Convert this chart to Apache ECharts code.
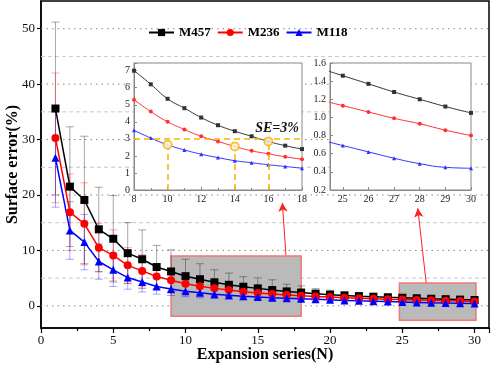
<!DOCTYPE html>
<html>
<head>
<meta charset="utf-8">
<script src="https://cdn.jsdelivr.net/npm/echarts@6/dist/echarts.min.js"></script>
<style>
  html, body { margin: 0; padding: 0; background: #fff; }
  #chart { width: 491px; height: 369px; }
</style>
</head>
<body>
<div id="chart"></div>
<script>
// expansion series N
const xs = [1, 2, 3, 4, 5, 6, 7, 8, 9, 10, 11, 12, 13, 14, 15, 16, 17, 18, 19, 20, 21, 22, 23, 24, 25, 26, 27, 28, 29, 30];

// surface error (%) per sample
const m457 = [35.6, 21.5, 19.1, 13.8, 12.1, 9.5, 8.4, 7.0, 6.2, 5.35, 4.8, 4.25, 3.8, 3.45, 3.15, 2.85, 2.6, 2.4, 2.2, 2.02, 1.87, 1.75, 1.65, 1.55, 1.46, 1.37, 1.28, 1.2, 1.12, 1.05];
const m236 = [30.3, 16.9, 14.8, 10.5, 9.1, 7.3, 6.3, 5.3, 4.6, 4.0, 3.55, 3.15, 2.85, 2.55, 2.3, 2.12, 1.95, 1.8, 1.68, 1.58, 1.48, 1.38, 1.29, 1.2, 1.13, 1.06, 0.99, 0.93, 0.86, 0.8];
const m118 = [26.7, 13.6, 11.5, 8.0, 6.5, 5.1, 4.3, 3.5, 3.05, 2.65, 2.35, 2.1, 1.9, 1.72, 1.6, 1.48, 1.38, 1.28, 1.18, 1.08, 0.98, 0.9, 0.83, 0.76, 0.69, 0.62, 0.55, 0.49, 0.45, 0.44];

// error bar half widths
const err457 = [15.6, 10.8, 11.5, 7.6, 7.8, 5.5, 5.3, 3.9, 3.9, 3.05, 2.8, 2.25, 2.1, 1.8, 1.9, 1.85, 1.3, 1.2, 0.9, 0.8, 0.7, 0.6, 0.5, 0.45, 0.4, 0.35, 0.3, 0.3, 0.25, 0.25];
const err236 = [11.7, 6.9, 7.4, 4.4, 4.6, 3.2, 2.9, 2.3, 2.0, 1.7, 1.5, 1.3, 1.1, 1.0, 0.9, 0.8, 0.7, 0.65, 0.6, 0.5, 0.45, 0.4, 0.35, 0.3, 0.3, 0.25, 0.25, 0.2, 0.2, 0.2];
const err118 = [8.9, 5.2, 5.0, 3.2, 3.0, 2.1, 1.8, 1.4, 1.2, 1.0, 0.9, 0.8, 0.7, 0.6, 0.55, 0.5, 0.45, 0.4, 0.35, 0.3, 0.3, 0.25, 0.25, 0.2, 0.2, 0.2, 0.15, 0.15, 0.15, 0.15];

// tick labels / grid lines
const mainYLabels = [0, 10, 20, 30, 40, 50];
const minorYLines = [5, 15, 25, 35, 45];
const inset2XLabels = [25, 26, 27, 28, 29, 30];

// zoom boxes [x1, y1, x2, y2] and arrows [from, to]
const zoomBoxes = [[9, 9, 18, -1.9], [24.8, 4.1, 30.1, -2.6]];
const arrows = [[[16.95, 9.1], [16.7, 18.6]], [[26.65, 4.2], [26.07, 17.6]]];

const SE_LIMIT = 3;
const seMarks = [[10, m118], [14, m236], [16, m457]]; // first N under 3%

const FONT = '"Liberation Serif", "Times New Roman", serif';

function pairs(vals, from, to) {
  const out = [];
  xs.forEach((x, i) => { if (x >= from && x <= to) out.push([x, vals[i]]); });
  return out;
}

function errSeries(vals, errs, color) {
  return {
    type: 'custom',
    xAxisIndex: 0, yAxisIndex: 0,
    z: 1.5,
    silent: true,
    data: vals.map((v, i) => [xs[i], v - errs[i], v + errs[i]]),
    renderItem: function (params, api) {
      const lo = api.coord([api.value(0), api.value(1)]);
      const hi = api.coord([api.value(0), api.value(2)]);
      const w = 4;
      const st = { stroke: color, lineWidth: 1 };
      return {
        type: 'group',
        children: [
          { type: 'line', shape: { x1: hi[0], y1: hi[1], x2: lo[0], y2: lo[1] }, style: st },
          { type: 'line', shape: { x1: hi[0] - w, y1: hi[1], x2: hi[0] + w, y2: hi[1] }, style: st },
          { type: 'line', shape: { x1: lo[0] - w, y1: lo[1], x2: lo[0] + w, y2: lo[1] }, style: st }
        ]
      };
    }
  };
}

function gridLines(vals, color, dash) {
  return {
    type: 'custom',
    xAxisIndex: 0, yAxisIndex: 0,
    z: 0.5,
    silent: true,
    data: vals.map(v => [0, v]),
    renderItem: function (params, api) {
      const cs = params.coordSys;
      const y = api.coord([0, api.value(1)])[1];
      return {
        type: 'line',
        shape: { x1: cs.x, y1: y, x2: cs.x + cs.width, y2: y },
        style: { stroke: color, lineWidth: 1, lineDash: dash }
      };
    }
  };
}

function insetLine(name, vals, from, to, color, symbol, xi) {
  return {
    name: name,
    type: 'line',
    xAxisIndex: xi, yAxisIndex: xi,
    z: 4,
    smooth: true,
    symbol: symbol,
    symbolSize: 4,
    data: pairs(vals, from, to),
    lineStyle: { color: color, width: 1 },
    itemStyle: { color: color }
  };
}

const insetAxisBase = {
  z: 3.5,
  axisLine: { show: true, onZero: false, lineStyle: { color: '#888', width: 1 } },
  axisTick: { show: true, inside: true, length: 3, lineStyle: { color: '#888' } },
  splitLine: { show: false },
  axisLabel: { color: '#222', fontFamily: FONT, fontSize: 10, margin: 4 }
};

let chart = echarts.init(document.getElementById('chart'));

let option = {
  animation: false,
  legend: {
    left: 143,
    top: 21,
    itemWidth: 25,
    itemHeight: 9,
    itemGap: 6,
    data: ['M457', 'M236', 'M118'],
    textStyle: { fontFamily: FONT, fontWeight: 'bold', fontSize: 13, color: '#000' }
  },
  grid: [
    { left: 41, right: 2, top: 1, bottom: 41, containLabel: false, outerBoundsMode: 'none', show: true, borderColor: '#000', borderWidth: 1.5, backgroundColor: 'transparent' },
    { left: 134, right: 189, top: 63, bottom: 179, containLabel: false, outerBoundsMode: 'none', show: true, z: 3, borderColor: '#888', borderWidth: 1, backgroundColor: '#fff' },
    { left: 330, right: 20, top: 63, bottom: 179, containLabel: false, outerBoundsMode: 'none', show: true, z: 3, borderColor: '#888', borderWidth: 1, backgroundColor: '#fff' }
  ],
  xAxis: [
    {
      gridIndex: 0, type: 'value', min: 0, max: 31, interval: 5,
      name: 'Expansion series(N)', nameLocation: 'middle', nameGap: 19, nameMoveOverlap: false,
      nameTextStyle: { fontFamily: FONT, fontWeight: 'bold', fontSize: 16, color: '#000' },
      axisLine: { onZero: false, lineStyle: { color: '#000', width: 1.5 } },
      axisTick: { length: 5, lineStyle: { color: '#000', width: 1.2 } },
      minorTick: { show: true, splitNumber: 2, length: 3, lineStyle: { color: '#000', width: 1.2 } },
      splitLine: { show: false },
      axisLabel: {
        fontFamily: FONT, fontSize: 13, color: '#111', margin: 6,
        formatter: v => (v % 5 === 0 ? String(v) : '')
      }
    },
    Object.assign({}, insetAxisBase, {
      gridIndex: 1, type: 'value', min: 8, max: 18, interval: 2,
      minorTick: { show: true, splitNumber: 2, length: 2, lineStyle: { color: '#888' } }
    }),
    Object.assign({}, insetAxisBase, {
      gridIndex: 2, type: 'value', min: 24.5, max: 30,
      axisTick: Object.assign({}, insetAxisBase.axisTick, { customValues: inset2XLabels }),
      axisLabel: Object.assign({}, insetAxisBase.axisLabel, {
        customValues: inset2XLabels,
        formatter: v => (Number.isInteger(v) ? String(v) : '')
      })
    })
  ],
  yAxis: [
    {
      gridIndex: 0, type: 'value', min: -4, max: 55,
      name: 'Surface error(%)', nameLocation: 'middle', nameGap: 20, nameMoveOverlap: false,
      nameTextStyle: { fontFamily: FONT, fontWeight: 'bold', fontSize: 16, color: '#000' },
      axisLine: { show: true, onZero: false, lineStyle: { color: '#000', width: 1.5 } },
      axisTick: { show: true, length: 4, customValues: mainYLabels, lineStyle: { color: '#000', width: 1.2 } },
      splitLine: { show: false },
      axisLabel: {
        fontFamily: FONT, fontSize: 13, color: '#111', margin: 6,
        hideOverlap: false,
        customValues: mainYLabels,
        formatter: v => (v % 10 === 0 ? String(v) : '')
      }
    },
    Object.assign({}, insetAxisBase, {
      gridIndex: 1, type: 'value', min: 0, max: 7.45, interval: 1,
      axisLabel: Object.assign({}, insetAxisBase.axisLabel, {
        formatter: v => (Number.isInteger(v) ? String(v) : '')
      })
    }),
    Object.assign({}, insetAxisBase, {
      gridIndex: 2, type: 'value', min: 0.2, max: 1.6, interval: 0.2,
      axisLabel: Object.assign({}, insetAxisBase.axisLabel, {
        formatter: v => v.toFixed(1)
      })
    })
  ],
  series: [
    gridLines(mainYLabels, '#888', [1.5, 4]),
    gridLines(minorYLines, '#c8c8c8', [4, 3]),
    errSeries(m457, err457, 'rgba(0,0,0,0.35)'),
    errSeries(m236, err236, 'rgba(255,0,0,0.35)'),
    errSeries(m118, err118, 'rgba(0,0,255,0.35)'),
    {
      name: 'M457', type: 'line', xAxisIndex: 0, yAxisIndex: 0, z: 2,
      symbol: 'rect', symbolSize: 8,
      data: xs.map((x, i) => [x, m457[i]]),
      lineStyle: { color: '#000', width: 1.5 },
      itemStyle: { color: '#000' },
      markArea: {
        silent: true,
        z: 1,
        label: { show: false },
        itemStyle: { color: '#bababa', borderColor: '#f07878', borderWidth: 1.5 },
        data: zoomBoxes.map(b => [{ coord: [b[0], b[1]] }, { coord: [b[2], b[3]] }])
      },
      markLine: {
        silent: true,
        symbol: ['none', 'arrow'],
        symbolSize: [7, 9],
        label: { show: false },
        lineStyle: { color: '#ff2020', width: 1, type: 'solid' },
        data: arrows.map(a => [{ coord: a[0] }, { coord: a[1] }])
      }
    },
    {
      name: 'M236', type: 'line', xAxisIndex: 0, yAxisIndex: 0, z: 2,
      symbol: 'circle', symbolSize: 8,
      data: xs.map((x, i) => [x, m236[i]]),
      lineStyle: { color: '#ff0000', width: 1.5 },
      itemStyle: { color: '#ff0000' }
    },
    {
      name: 'M118', type: 'line', xAxisIndex: 0, yAxisIndex: 0, z: 2,
      symbol: 'triangle', symbolSize: 8,
      data: xs.map((x, i) => [x, m118[i]]),
      lineStyle: { color: '#0000ff', width: 1.5 },
      itemStyle: { color: '#0000ff' }
    },
    Object.assign(insetLine('i1-M457', m457, 8, 18, '#333', 'rect', 1), {
      markLine: {
        silent: true,
        z: 5,
        symbol: 'none',
        lineStyle: { color: '#f5b700', width: 1.5, type: [6, 4] },
        label: { show: false },
        data: [
          [
            { coord: [8, SE_LIMIT], label: { show: true, position: 'insideEndTop', formatter: 'SE=3%', fontFamily: FONT, fontWeight: 'bold', fontStyle: 'italic', fontSize: 14, color: '#111', distance: 3 } },
            { coord: [18, SE_LIMIT] }
          ]
        ].concat(seMarks.map(m => [{ coord: [m[0], 0] }, { coord: [m[0], m[1][m[0] - 1]] }]))
      }
    }),
    insetLine('i1-M236', m236, 8, 18, '#ff3030', 'circle', 1),
    insetLine('i1-M118', m118, 8, 18, '#3030ff', 'triangle', 1),
    {
      type: 'scatter', xAxisIndex: 1, yAxisIndex: 1, z: 6,
      symbol: 'emptyCircle', symbolSize: 8,
      itemStyle: { color: '#f5b700', borderColor: '#f5b700', borderWidth: 1.2 },
      data: seMarks.map(m => [m[0], m[1][m[0] - 1]])
    },
    insetLine('i2-M457', m457, 24, 30, '#333', 'rect', 2),
    insetLine('i2-M236', m236, 24, 30, '#ff3030', 'circle', 2),
    insetLine('i2-M118', m118, 24, 30, '#3030ff', 'triangle', 2)
  ]
};

chart.setOption(option, true);
</script>
</body>
</html>
